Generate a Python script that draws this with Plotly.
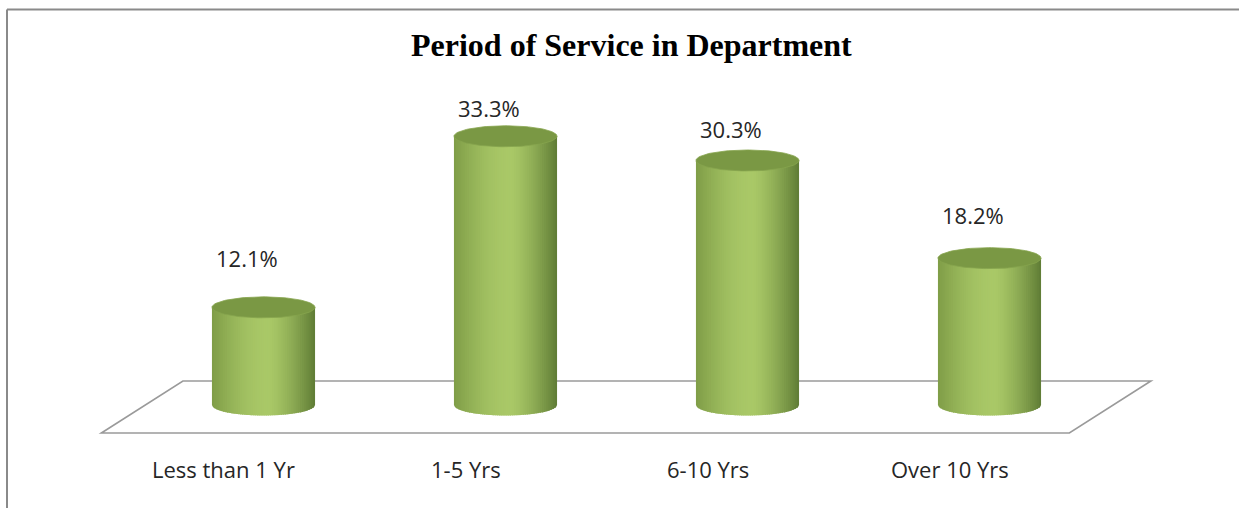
import numpy as np
import plotly.graph_objects as go

# ---- data ----
categories = ["Less than 1 Yr", "1-5 Yrs", "6-10 Yrs", "Over 10 Yrs"]
values = [12.1, 33.3, 30.3, 18.2]
value_labels = ["12.1%", "33.3%", "30.3%", "18.2%"]
title_text = "Period of Service in Department"

W, H = 1239, 508

# cylinder geometry (in axis units)
half_w = 0.213          # half width of a cylinder in category units
ell_h = 1.30            # vertical half-height of ellipse in value units
N_STRIPS = 48

def lerp(c1, c2, t):
    return tuple(int(round(a + (b - a) * t)) for a, b in zip(c1, c2))

def hexrgb(h):
    h = h.lstrip('#')
    return tuple(int(h[i:i + 2], 16) for i in (0, 2, 4))

c_left = hexrgb("#7f9d47")
c_peak = hexrgb("#a9c867")
c_right = hexrgb("#5f7c35")

def shade(t):
    p = 0.55
    if t < p:
        s = np.sin(0.5 * np.pi * t / p)
        return lerp(c_left, c_peak, s)
    s = (t - p) / (1 - p)
    return lerp(c_peak, c_right, s ** 1.4)

fig = go.Figure()

for i, v in enumerate(values):
    cx = i
    edges = np.linspace(cx - half_w, cx + half_w, N_STRIPS + 1)
    for k in range(N_STRIPS):
        xa, xb = edges[k], edges[k + 1]
        xb2 = min(xb + (edges[1] - edges[0]) * 0.6, cx + half_w)
        xs_arc = np.linspace(xa, xb2, 4)
        u = np.clip((xs_arc - cx) / half_w, -1, 1)
        ys_arc = -ell_h * np.sqrt(1 - u ** 2)
        px = [xa, xb2] + list(xs_arc[::-1]) + [xa]
        py = [v, v] + list(ys_arc[::-1]) + [v]
        r, g, b = shade((k + 0.5) / N_STRIPS)
        fig.add_trace(go.Scatter(
            x=px, y=py, mode="lines", fill="toself",
            fillcolor=f"rgb({r},{g},{b})", line=dict(width=0),
            hoverinfo="skip", showlegend=False))
    # top cap
    th = np.linspace(0, 2 * np.pi, 120)
    fig.add_trace(go.Scatter(
        x=cx + half_w * np.cos(th), y=v + ell_h * np.sin(th),
        mode="lines", fill="toself", fillcolor="#7a9844",
        line=dict(width=0.8, color="#86a54e"),
        hoverinfo="skip", showlegend=False))

n = len(categories)
# floor parallelogram
y_back, y_front = 2.97, -3.47
floor_path = (f"M {-0.67} {y_front} L {-0.333} {y_back} L {n - 0.333} {y_back} "
              f"L {n - 0.67} {y_front} Z")
shapes = [
    dict(type="path", path=floor_path, xref="x", yref="y", layer="below",
         line=dict(color="#9a9a9a", width=1.6), fillcolor="rgba(0,0,0,0)"),
    # outer border (top and left)
    dict(type="line", xref="paper", yref="paper", x0=7 / W, x1=1, y0=1 - 9.5 / H, y1=1 - 9.5 / H,
         line=dict(color="#8a8a8a", width=2)),
    dict(type="line", xref="paper", yref="paper", x0=7 / W, x1=7 / W, y0=0, y1=1 - 9.5 / H,
         line=dict(color="#8a8a8a", width=2)),
]

label_font = dict(family="Open Sans", size=22, color="#262626")
annotations = []
for i, (v, lab) in enumerate(zip(values, value_labels)):
    annotations.append(dict(x=i, y=v, xref="x", yref="y2", text=lab, showarrow=False,
                            xshift=-17, yanchor="middle", font=label_font))
for i, cat in enumerate(categories):
    annotations.append(dict(x=i, y=-7.93, xref="x", yref="y", text=cat, showarrow=False,
                            xshift=-40, yanchor="middle", font=label_font))
annotations.append(dict(x=631 / W, y=1 - 45 / H, xref="paper", yref="paper", text=f"<b>{title_text}</b>",
                        showarrow=False, xanchor="center", yanchor="middle",
                        font=dict(family="Liberation Serif", size=32, color="#000000")))

x0 = -263.5 / 242
x1 = (W - 263.5) / 242
fig.update_layout(
    width=W, height=H,
    margin=dict(l=0, r=0, t=0, b=0),
    paper_bgcolor="white", plot_bgcolor="white",
    xaxis=dict(range=[x0, x1], visible=False, fixedrange=True),
    yaxis=dict(range=[-(H - 405) / 8.07, 405 / 8.07], visible=False, fixedrange=True),
    yaxis2=dict(range=[(343.6 - H) / 7.075, 343.6 / 7.075], visible=False,
                overlaying="y", fixedrange=True),
    shapes=shapes,
    annotations=annotations,
    showlegend=False,
)

fig.write_html("out.html", config={"displayModeBar": False},
               post_script="document.body.style.margin='0';document.body.style.overflow='hidden';")
